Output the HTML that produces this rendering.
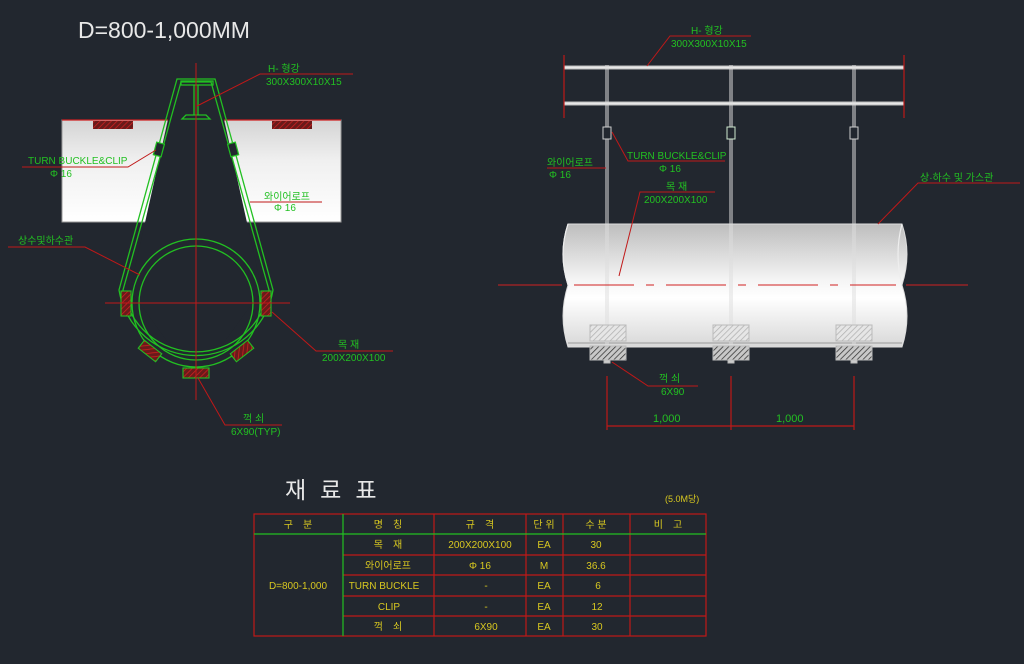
<!DOCTYPE html>
<html><head><meta charset="utf-8"><style>
html,body{margin:0;padding:0;background:#22272f;}
svg{display:block;}
text{font-family:"Liberation Sans","Noto Sans CJK KR",sans-serif;}
</style></head><body>
<svg width="1024" height="664" viewBox="0 0 1024 664" xmlns="http://www.w3.org/2000/svg">
<defs>
<linearGradient id="g1" x1="0" y1="0" x2="0" y2="1"><stop offset="0" stop-color="#d4d4d4"/><stop offset="0.4" stop-color="#f0f0f0"/><stop offset="1" stop-color="#ffffff"/></linearGradient>
<linearGradient id="g2" x1="0" y1="0" x2="0" y2="1"><stop offset="0" stop-color="#bdbdbd"/><stop offset="0.45" stop-color="#f4f4f4"/><stop offset="0.6" stop-color="#ffffff"/><stop offset="1" stop-color="#d8d8d8"/></linearGradient>
<pattern id="hr" width="4" height="4" patternUnits="userSpaceOnUse" patternTransform="rotate(45)"><rect width="4" height="4" fill="#6a1a1a"/><line x1="0" y1="0" x2="0" y2="4" stroke="#d02020" stroke-width="1.5"/></pattern>
<pattern id="hl" width="4" height="4" patternUnits="userSpaceOnUse" patternTransform="rotate(45)"><rect width="4" height="4" fill="#e6e6e6"/><line x1="0" y1="0" x2="0" y2="4" stroke="#b0b0b0" stroke-width="1.5"/></pattern>
<pattern id="hd" width="4" height="4" patternUnits="userSpaceOnUse" patternTransform="rotate(45)"><rect width="4" height="4" fill="#c8c8c8"/><line x1="0" y1="0" x2="0" y2="4" stroke="#333" stroke-width="1.5"/></pattern>
</defs>

<text x="78" y="38" font-size="23" fill="#e8e8e8">D=800-1,000MM</text>

<!-- LEFT DRAWING -->
<rect x="62" y="120" width="279" height="102" fill="url(#g1)" stroke="#999" stroke-width="1"/>
<line x1="62" y1="120" x2="341" y2="120" stroke="#d02020" stroke-width="1.2"/>
<rect x="93" y="121" width="40" height="8" fill="url(#hr)"/>
<rect x="272" y="121" width="40" height="8" fill="url(#hr)"/>
<!-- dark area of sling wedge over ground -->
<polygon points="177,79 215,79 262,290 196,381 130,290" fill="#22272f"/>
<!-- sling -->
<g fill="none" stroke="#22c022" stroke-width="1.3">
<path d="M177,79 L119,290 A78,78 0 0 0 273,290 L215,79 Z"/>
<path d="M181,82 L123,290 A74,74 0 0 0 269,290 L211,82 Z"/>
<circle cx="196" cy="303" r="64"/>
<circle cx="196" cy="303" r="57"/>
</g>
<!-- H beam -->
<g fill="none" stroke="#22c022" stroke-width="1.3">
<rect x="181" y="81" width="32" height="4"/>
<path d="M194,85 V115 M198,85 V115 M182,119 L186,115 H206 L210,119 Z"/>
</g>
<!-- turn buckles -->
<rect x="155" y="143" width="8" height="13" fill="#22272f" stroke="#22c022" stroke-width="1.2" transform="rotate(15 159 149)"/>
<rect x="229" y="143" width="8" height="13" fill="#22272f" stroke="#22c022" stroke-width="1.2" transform="rotate(-15 233 149)"/>
<!-- blocks -->
<g stroke="#22c022" stroke-width="1.1">
<rect x="121" y="291" width="10" height="25" fill="url(#hr)"/>
<rect x="261" y="291" width="10" height="25" fill="url(#hr)"/>
<rect x="183" y="368" width="26" height="10" fill="url(#hr)"/>
<rect x="139" y="346" width="22" height="10" fill="url(#hr)" transform="rotate(38 150 351)"/>
<rect x="231" y="346" width="22" height="10" fill="url(#hr)" transform="rotate(-38 242 351)"/>
</g>
<!-- centerlines -->
<g stroke="#c01818" stroke-width="1">
<line x1="196" y1="63" x2="196" y2="400"/>
<line x1="105" y1="303" x2="290" y2="303"/>
</g>
<!-- leaders -->
<g stroke="#c01818" stroke-width="1" fill="none">
<polyline points="197,106 260,74 353,74"/>
<polyline points="156,150 128,167 22,167"/>
<polyline points="250,202 322,202"/>
<polyline points="140,275 85,247 8,247"/>
<polyline points="272,312 316,351 393,351"/>
<polyline points="198,378 225,425 282,425"/>
</g>
<g font-size="10" fill="#22c022">
<text x="268" y="72">H- 형강</text>
<text x="266" y="85">300X300X10X15</text>
<text x="28" y="164">TURN BUCKLE&amp;CLIP</text>
<text x="50" y="177">Φ 16</text>
<text x="264" y="200">와이어로프</text>
<text x="274" y="211">Φ 16</text>
<text x="18" y="244">상수및하수관</text>
<text x="338" y="348">목 재</text>
<text x="322" y="361">200X200X100</text>
<text x="243" y="422">꺽 쇠</text>
<text x="231" y="435">6X90(TYP)</text>
</g>

<!-- RIGHT DRAWING -->
<g stroke="#bbb" stroke-width="1" fill="#e8e8e8">
<rect x="564" y="66" width="340" height="3"/>
<rect x="564" y="102" width="340" height="3"/>
</g>
<g stroke="#c01818" stroke-width="1.2">
<line x1="564" y1="55" x2="564" y2="118"/>
<line x1="904" y1="55" x2="904" y2="118"/>
</g>
<!-- pipe -->
<path d="M568,224 H902 Q912,254 902,285 Q912,316 902,347 H568 Q558,316 568,285 Q558,254 568,224 Z" fill="url(#g2)" stroke="#ddd" stroke-width="1"/>
<path d="M568,224 Q558,254 568,285 M902,224 Q894,254 902,285" fill="none" stroke="#eee" stroke-width="1.2"/>
<line x1="568" y1="343" x2="902" y2="343" stroke="#999" stroke-width="1"/>
<!-- verticals & buckles & blocks -->
<g stroke="#ddd" stroke-width="1" fill="none">
<path d="M606,65 V360 M608,65 V360 M730,65 V360 M732,65 V360 M853,65 V360 M855,65 V360"/>
</g>
<rect x="603" y="127" width="8" height="12" fill="#22272f" stroke="#ccc"/>
<rect x="727" y="127" width="8" height="12" fill="#22272f" stroke="#cfe8cf"/>
<rect x="850" y="127" width="8" height="12" fill="#22272f" stroke="#ccc"/>
<g stroke="#bbb" stroke-width="1">
<rect x="590" y="325" width="36" height="16" fill="url(#hl)"/>
<rect x="590" y="346" width="36" height="14" fill="url(#hd)"/>
<rect x="713" y="325" width="36" height="16" fill="url(#hl)"/>
<rect x="713" y="346" width="36" height="14" fill="url(#hd)"/>
<rect x="836" y="325" width="36" height="16" fill="url(#hl)"/>
<rect x="836" y="346" width="36" height="14" fill="url(#hd)"/>
<rect x="604" y="360" width="6" height="3" fill="#ccc"/>
<rect x="728" y="360" width="6" height="3" fill="#ccc"/>
<rect x="851" y="360" width="6" height="3" fill="#ccc"/>
</g>
<!-- center dashed -->
<g stroke="#d02020" stroke-width="1">
<line x1="498" y1="285" x2="562" y2="285"/>
<line x1="906" y1="285" x2="968" y2="285"/>
<line x1="574" y1="285" x2="896" y2="285" stroke-dasharray="60,12,8,12"/>
</g>
<!-- dimensions -->
<g stroke="#c01818" stroke-width="1.2">
<line x1="607" y1="376" x2="607" y2="430"/>
<line x1="731" y1="376" x2="731" y2="430"/>
<line x1="854" y1="376" x2="854" y2="430"/>
<line x1="607" y1="426" x2="854" y2="426"/>
</g>
<g stroke="#c01818" stroke-width="1" fill="none">
<polyline points="647,66 670,36 751,36"/>
<polyline points="612,132 628,161 725,161"/>
<polyline points="547,168 606,168"/>
<polyline points="619,276 640,192 715,192"/>
<polyline points="878,224 918,183 1020,183"/>
<polyline points="612,362 648,386 698,386"/>
</g>
<g font-size="10" fill="#22c022">
<text x="691" y="34">H- 형강</text>
<text x="671" y="47">300X300X10X15</text>
<text x="627" y="159">TURN BUCKLE&amp;CLIP</text>
<text x="659" y="172">Φ 16</text>
<text x="547" y="166">와이어로프</text>
<text x="549" y="178">Φ 16</text>
<text x="666" y="190">목 재</text>
<text x="644" y="203">200X200X100</text>
<text x="920" y="181">상·하수 및 가스관</text>
<text x="659" y="382">꺽 쇠</text>
<text x="661" y="395">6X90</text>
<text x="653" y="422" font-size="11">1,000</text>
<text x="776" y="422" font-size="11">1,000</text>
</g>

<!-- TABLE -->
<text x="285" y="498" font-size="23" fill="#e8e8e8" letter-spacing="14">재료표</text>
<text x="665" y="502" font-size="9" fill="#d8c820">(5.0M당)</text>
<g stroke="#c01818" stroke-width="1.2" fill="none">
<rect x="254" y="514" width="452" height="122"/>
<line x1="434" y1="514" x2="434" y2="636"/>
<line x1="526" y1="514" x2="526" y2="636"/>
<line x1="563" y1="514" x2="563" y2="636"/>
<line x1="630" y1="514" x2="630" y2="636"/>
<line x1="343" y1="555" x2="706" y2="555"/>
<line x1="343" y1="575" x2="706" y2="575"/>
<line x1="343" y1="596" x2="706" y2="596"/>
<line x1="343" y1="616" x2="706" y2="616"/>
</g>
<line x1="254" y1="534" x2="706" y2="534" stroke="#22c022" stroke-width="1.2"/>
<line x1="343" y1="514" x2="343" y2="636" stroke="#22c022" stroke-width="1.2"/>
<g font-size="10" fill="#d8c820" text-anchor="middle">
<text x="298" y="528">구　분</text>
<text x="388" y="528">명　칭</text>
<text x="480" y="528">규　격</text>
<text x="544" y="528">단 위</text>
<text x="596" y="528">수 분</text>
<text x="668" y="528">비　고</text>
<text x="298" y="589">D=800-1,000</text>
<text x="388" y="548">목　재</text>
<text x="480" y="548">200X200X100</text>
<text x="544" y="548">EA</text>
<text x="596" y="548">30</text>
<text x="388" y="569">와이어로프</text>
<text x="480" y="569">Φ 16</text>
<text x="544" y="569">M</text>
<text x="596" y="569">36.6</text>
<text x="384" y="589">TURN BUCKLE</text>
<text x="486" y="589">-</text>
<text x="544" y="589">EA</text>
<text x="598" y="589">6</text>
<text x="389" y="610">CLIP</text>
<text x="486" y="610">-</text>
<text x="544" y="610">EA</text>
<text x="597" y="610">12</text>
<text x="388" y="630">꺽　쇠</text>
<text x="486" y="630">6X90</text>
<text x="544" y="630">EA</text>
<text x="597" y="630">30</text>
</g>
</svg>
</body></html>
